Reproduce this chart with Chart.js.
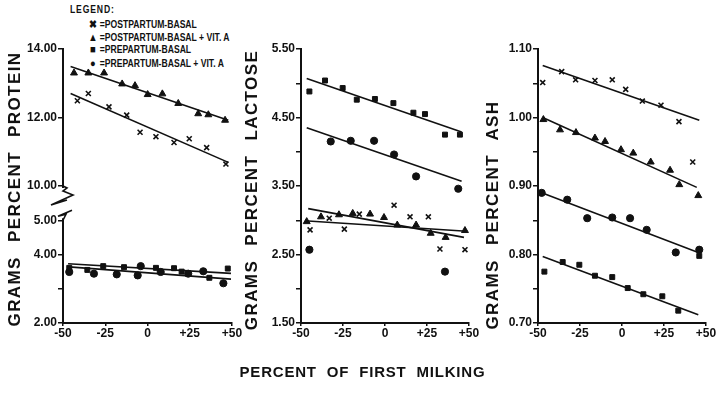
<!DOCTYPE html>
<html>
<head>
<meta charset="utf-8">
<script src="https://cdn.jsdelivr.net/npm/chart.js@4"></script>
<style>
  body { margin: 0; background: #fff; width: 717px; height: 394px; position: relative; overflow: hidden;
         font-family: "Liberation Sans", Arial, sans-serif; font-weight: bold; color: #111; }
  canvas { position: absolute; top: 0; }
  .lbl { position: absolute; white-space: nowrap; }
  .leg { font-size: 10px; transform: scaleX(0.86); transform-origin: 0 0; }
  .sym { display: inline-block; width: 16px; text-align: center; font-size: 11px; }
  .ytitle { position: absolute; width: 300px; height: 20px; line-height: 20px; text-align: center;
            transform: rotate(-90deg); font-size: 17px; letter-spacing: 1.4px; word-spacing: 8px; }
</style>
</head>
<body>

<div class="lbl leg" style="left:70px;top:4px;letter-spacing:1px">LEGEND:</div>
<div class="lbl leg" style="left:86px;top:18px"><span class="sym">&#10006;</span>=POSTPARTUM-BASAL</div>
<div class="lbl leg" style="left:86px;top:31px"><span class="sym">&#9650;</span>=POSTPARTUM-BASAL + VIT. A</div>
<div class="lbl leg" style="left:86px;top:43px"><span class="sym">&#9632;</span>=PREPARTUM-BASAL</div>
<div class="lbl leg" style="left:86px;top:57px"><span class="sym">&#9679;</span>=PREPARTUM-BASAL + VIT. A</div>

<canvas id="protein" width="245" height="345" style="left:0px"></canvas>
<canvas id="lactose" width="235" height="345" style="left:245px"></canvas>
<canvas id="ash" width="237" height="345" style="left:480px"></canvas>

<div class="ytitle" style="left:-135px;top:179px">GRAMS PERCENT PROTEIN</div>
<div class="ytitle" style="left:102px;top:180px">GRAMS PERCENT LACTOSE</div>
<div class="ytitle" style="left:343px;top:205px">GRAMS PERCENT ASH</div>
<div class="lbl" style="left:0;width:717px;top:363px;text-align:center;font-size:15px;letter-spacing:0.8px;word-spacing:5px;padding-left:4px">PERCENT OF FIRST MILKING</div>

<script>
// percent of first milking (x) and grams percent (y)
const xTicks = [-50, -25, 0, 25, 50];

// protein
const proteinPostBasal = [[-41.5, 12.49], [-35, 12.70], [-22.8, 12.31], [-12.3, 12.07], [-4.4, 11.57], [5, 11.44], [15.7, 11.27], [24.7, 11.38], [35, 11.12], [46.4, 10.64]];
const proteinPostVitA = [[-43.5, 13.30], [-35, 13.30], [-25.7, 13.30], [-15, 12.98], [-7.4, 12.93], [0.1, 12.67], [8.8, 12.69], [18.2, 12.41], [30, 12.11], [36, 12.08], [45.9, 11.92]];
const proteinPreBasal = [[-46.3, 3.61], [-35.6, 3.55], [-26.2, 3.66], [-13.9, 3.63], [5, 3.61], [15.7, 3.60], [20.2, 3.50], [36.6, 3.32], [47.5, 3.59]];
const proteinPreVitA = [[-46.3, 3.49], [-31.7, 3.44], [-18.2, 3.42], [-5.8, 3.39], [-4, 3.66], [7.8, 3.49], [24.1, 3.44], [33, 3.51], [44.9, 3.16]];
// fitted lines: [x0, y0, x1, y1] in series order post-basal, post+vitA, pre-basal, pre+vitA
const proteinFits = [[-45.5, 12.70, 47.8, 10.69], [-45.5, 13.49, 47.8, 11.92], [-47, 3.73, 49.4, 3.45], [-46.5, 3.64, 49.4, 3.28]];
const proteinTicks = [2, 3, 4, 5, 10, 12, 14];
const proteinLabels = ['2.00', '', '4.00', '5.00', '10.00', '12.00', '14.00'];

// lactose
const lactosePostBasal = [[-44.6, 2.86], [-33.2, 3.03], [-24.2, 2.87], [-15.3, 3.09], [5.4, 3.22], [14.9, 3.05], [25.8, 3.05], [32.7, 2.58], [47.6, 2.57]];
const lactosePostVitA = [[-46.6, 2.98], [-38.1, 3.05], [-27.4, 3.08], [-19.2, 3.10], [-8.9, 3.09], [-0.6, 3.04], [7.3, 2.93], [18.5, 2.93], [27.2, 2.81], [36.1, 2.75], [47.6, 2.85]];
const lactosePreBasal = [[-45, 4.88], [-35.7, 5.04], [-25.2, 4.93], [-16.8, 4.76], [-6, 4.77], [5, 4.71], [16.9, 4.57], [23.8, 4.55], [35.7, 4.25], [44.6, 4.25]];
const lactosePreVitA = [[-45, 2.57], [-32.3, 4.15], [-20.4, 4.16], [-6.5, 4.16], [5.4, 3.96], [18.5, 3.64], [35.7, 2.25], [43.6, 3.46]];
const lactoseFits = [[-45.7, 2.99, 48.6, 2.84], [-45.7, 3.17, 47, 2.75], [-46.6, 5.07, 45.6, 4.29], [-46.6, 4.35, 45.6, 3.57]];
const lactoseTicks = [1.5, 2, 2.5, 3, 3.5, 4, 4.5, 5, 5.5];
const lactoseLabels = ['1.50', '', '2.50', '', '3.50', '', '4.50', '', '5.50'];

// ash
const ashPostBasal = [[-47.2, 1.051], [-35.9, 1.067], [-27.6, 1.055], [-16.1, 1.054], [-5.8, 1.055], [2.2, 1.041], [12.1, 1.024], [23.2, 1.018], [33.9, 0.994], [42.1, 0.935]];
const ashPostVitA = [[-46.8, 0.997], [-36.9, 0.982], [-27.4, 0.978], [-16.1, 0.970], [-10.1, 0.965], [-0.6, 0.953], [6.7, 0.948], [17.1, 0.935], [28.6, 0.923], [34.1, 0.902], [45.4, 0.886]];
const ashPreBasal = [[-46.2, 0.775], [-35.3, 0.789], [-25.4, 0.785], [-16.1, 0.769], [-5.8, 0.767], [3.4, 0.751], [12.7, 0.742], [24, 0.739], [33.5, 0.718], [46, 0.798]];
const ashPreVitA = [[-47.8, 0.890], [-32.6, 0.880], [-20.7, 0.853], [-5.8, 0.854], [4.8, 0.853], [14.7, 0.836], [32, 0.803], [46, 0.807]];
const ashFits = [[-47.2, 1.076, 46, 0.996], [-47.2, 1.000, 44.5, 0.898], [-47.2, 0.797, 45.4, 0.712], [-47.8, 0.890, 45.4, 0.803]];
const ashTicks = [0.70, 0.75, 0.80, 0.85, 0.90, 0.95, 1.00, 1.05, 1.10];
const ashLabels = ['0.70', '', '0.80', '', '0.90', '', '1.00', '', '1.10'];

const ink = '#111';
const tickFont = { family: '"Liberation Sans", Arial, sans-serif', weight: 'bold', size: 12 };
const styles = [
    { pointStyle: 'crossRot', pointRadius: 3.5, pointBorderWidth: 1.6 },
    { pointStyle: 'triangle', pointRadius: 4, pointBorderWidth: 1 },
    { pointStyle: 'rect', pointRadius: 3.5, pointBorderWidth: 1 },
    { pointStyle: 'circle', pointRadius: 3.6, pointBorderWidth: 1 }
];

// protein axis is broken between 5 and 10: values >= 10 are shifted down by 4
const brk = v => v >= 10 ? v - 4 : v;

function buildDatasets(series, fits, f) {
    const ds = [];
    series.forEach((pts, i) => {
        ds.push(Object.assign({
            type: 'scatter',
            data: pts.map(p => ({ x: p[0], y: f(p[1]) })),
            backgroundColor: ink,
            borderColor: ink
        }, styles[i]));
    });
    fits.forEach(l => {
        ds.push({
            type: 'line',
            data: [{ x: l[0], y: f(l[1]) }, { x: l[2], y: f(l[3]) }],
            borderColor: ink,
            borderWidth: 1.6,
            pointRadius: 0,
            fill: false
        });
    });
    return ds;
}

// draws the zigzag where the protein axis is broken
const axisBreak = {
    id: 'axisBreak',
    afterDraw(chart) {
        if (!chart.options.plugins.axisBreak) return;
        const ctx = chart.ctx;
        const y = chart.scales.y;
        const ax = chart.chartArea.left;
        const y6 = y.getPixelForValue(6);
        const y5 = y.getPixelForValue(5);
        ctx.save();
        ctx.fillStyle = '#fff';
        ctx.fillRect(ax - 2, y6 + 2, 4, y5 - y6 - 4);
        ctx.strokeStyle = ink;
        ctx.lineWidth = 1.6;
        ctx.beginPath();
        ctx.moveTo(ax, y6);
        ctx.lineTo(ax + 4, y6 + 2);
        ctx.lineTo(ax, y6 + 5);
        ctx.lineTo(ax + 10, y6 + 9);
        ctx.lineTo(ax - 12, y6 + 19);
        ctx.lineTo(ax + 4, y6 + 14);
        ctx.stroke();
        ctx.beginPath();
        ctx.moveTo(ax + 9, y5 - 10);
        ctx.lineTo(ax - 5, y5 - 4);
        ctx.lineTo(ax + 3, y5 - 6);
        ctx.lineTo(ax, y5);
        ctx.stroke();
        ctx.restore();
    }
};

function makePanel(id, left, right, yMin, yMax, yTicks, yLabels, datasets, broken) {
    const canvas = document.getElementById(id);
    return new Chart(canvas.getContext('2d'), {
        data: { datasets: datasets },
        plugins: [axisBreak],
        options: {
            responsive: false,
            animation: false,
            layout: { autoPadding: false, padding: { top: 49, right: canvas.width - right, bottom: 2, left: 0 } },
            plugins: { legend: { display: false }, tooltip: { enabled: false }, axisBreak: broken },
            scales: {
                x: {
                    type: 'linear',
                    min: -50,
                    max: 50,
                    afterFit: s => { s.height = 20; },
                    afterBuildTicks: s => { s.ticks = xTicks.map(v => ({ value: v })); },
                    ticks: { color: ink, font: tickFont, padding: 0, maxRotation: 0,
                             callback: v => v > 0 ? '+' + v : String(v) },
                    grid: { drawOnChartArea: false, color: ink, tickLength: 3, lineWidth: 1.5 },
                    border: { color: ink, width: 2 }
                },
                y: {
                    type: 'linear',
                    min: yMin,
                    max: yMax,
                    afterFit: s => { s.width = left; },
                    afterBuildTicks: s => { s.ticks = yTicks.map(v => ({ value: v })); },
                    ticks: { color: ink, font: tickFont, padding: 1,
                             callback: (v, i) => yLabels[i] },
                    grid: { drawOnChartArea: false, color: ink, tickLength: 5, lineWidth: 1.5 },
                    border: { color: ink, width: 2 }
                }
            }
        }
    });
}

makePanel('protein', 63, 232, 2, 10, proteinTicks.map(brk), proteinLabels,
    buildDatasets([proteinPostBasal, proteinPostVitA, proteinPreBasal, proteinPreVitA], proteinFits, brk), true);
makePanel('lactose', 56, 224, 1.5, 5.5, lactoseTicks, lactoseLabels,
    buildDatasets([lactosePostBasal, lactosePostVitA, lactosePreBasal, lactosePreVitA], lactoseFits, v => v), false);
makePanel('ash', 58, 226, 0.7, 1.1, ashTicks, ashLabels,
    buildDatasets([ashPostBasal, ashPostVitA, ashPreBasal, ashPreVitA], ashFits, v => v), false);
</script>
</body>
</html>
